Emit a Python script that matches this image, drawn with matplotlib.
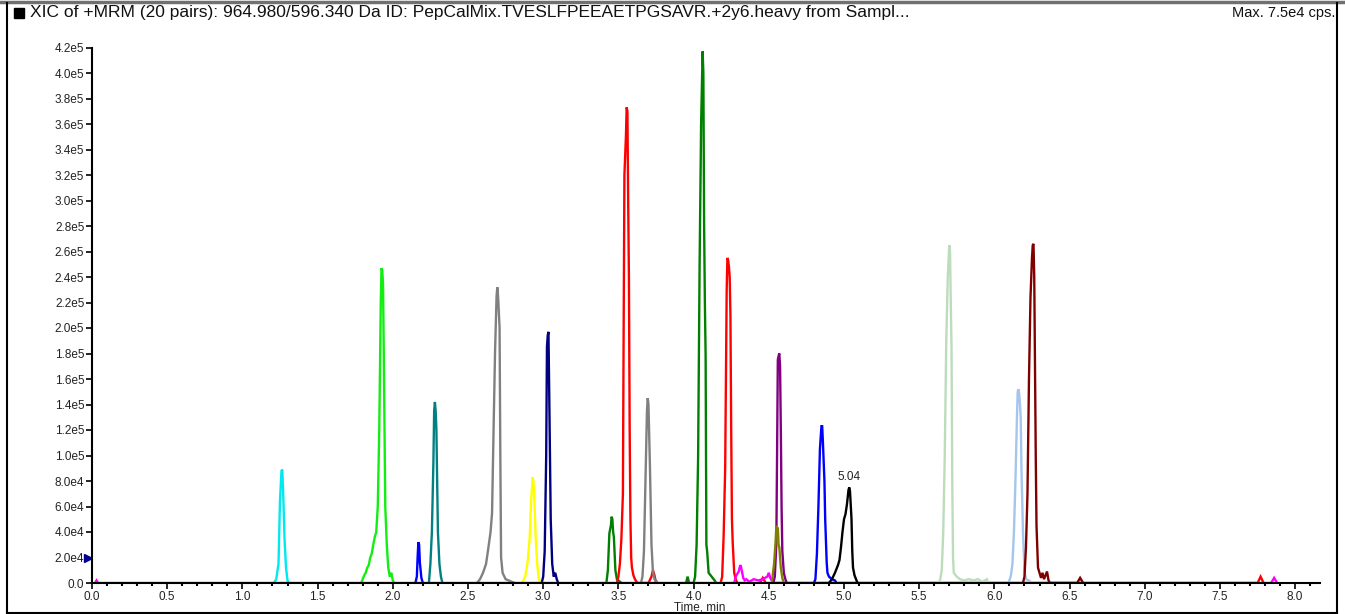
"""
XIC of +MRM, 20 transitions overlaid (PepCalMix)
"""
import matplotlib
matplotlib.use("Agg")
import matplotlib.pyplot as plt
from matplotlib.lines import Line2D
from matplotlib.patches import Rectangle
from matplotlib.ticker import MultipleLocator, FuncFormatter

plt.rcParams['font.family'] = ['Liberation Sans', 'DejaVu Sans']

# intensities are in units of 1e4 cps
t_cyan = [1.21, 1.225, 1.24, 1.25, 1.26, 1.265, 1.27, 1.28, 1.29, 1.30, 1.31]
i_cyan = [0, 0.3, 1.5, 6.5, 8.8, 8.9, 7.5, 3.5, 1.2, 0.2, 0]

t_lime = [1.79, 1.80, 1.81, 1.82, 1.83, 1.84, 1.85, 1.86, 1.87, 1.88, 1.89, 1.90, 1.91,
          1.92, 1.925, 1.93, 1.935, 1.94, 1.95, 1.96, 1.97, 1.98, 1.99, 2.00, 2.01]
i_lime = [0, 0.3, 0.6, 0.8, 1.2, 1.4, 2.0, 2.3, 3.0, 3.6, 4.0, 6.0, 12.0,
          22.0, 24.7, 24.5, 23.5, 18.0, 6.0, 3.0, 1.2, 0.5, 0.8, 0.2, 0]

t_blue1 = [2.15, 2.16, 2.165, 2.17, 2.175, 2.18, 2.19, 2.20]
i_blue1 = [0, 0.5, 2.0, 3.2, 3.0, 1.6, 0.4, 0]

t_teal = [2.24, 2.25, 2.26, 2.27, 2.275, 2.28, 2.285, 2.29, 2.295, 2.30, 2.31, 2.32, 2.33]
i_teal = [0, 1.5, 4.0, 9.5, 13.5, 14.2, 13.5, 12.0, 8.0, 4.0, 1.5, 0.5, 0]

t_gray1 = [2.56, 2.58, 2.60, 2.62, 2.63, 2.65, 2.66, 2.67, 2.68, 2.69, 2.695, 2.70,
           2.71, 2.715, 2.72, 2.73, 2.75, 2.77, 2.79, 2.81]
i_gray1 = [0, 0.3, 0.8, 1.5, 2.3, 4.0, 5.5, 12.0, 18.2, 22.5, 23.2, 22.5,
           20.0, 10.0, 2.0, 0.8, 0.3, 0.2, 0.1, 0]

t_yellow = [2.86, 2.88, 2.895, 2.91, 2.92, 2.93, 2.935, 2.94, 2.95, 2.96, 2.97, 2.98]
i_yellow = [0, 0.5, 1.5, 3.5, 6.5, 8.3, 8.0, 7.0, 3.5, 1.5, 0.4, 0]

t_navy = [2.99, 3.00, 3.01, 3.02, 3.025, 3.03, 3.035, 3.04, 3.05, 3.06, 3.07, 3.08, 3.09, 3.10]
i_navy = [0, 0.5, 2.5, 10.0, 18.5, 19.4, 19.7, 15.0, 5.0, 1.5, 0.5, 0.8, 0.3, 0]

t_green1 = [3.42, 3.43, 3.44, 3.45, 3.455, 3.46, 3.465, 3.47, 3.48, 3.49, 3.50, 3.52]
i_green1 = [0, 1.0, 3.9, 4.5, 5.2, 5.0, 4.0, 3.6, 1.0, 0.3, 0.2, 0]

t_red1 = [3.49, 3.50, 3.51, 3.52, 3.53, 3.535, 3.54, 3.55, 3.555, 3.56, 3.565, 3.57,
          3.575, 3.58, 3.585, 3.59, 3.60, 3.61, 3.62, 3.63, 3.70, 3.72, 3.73, 3.74, 3.75]
i_red1 = [0, 0.5, 1.5, 3.5, 7.0, 20.0, 32.0, 35.0, 37.3, 37.0, 30.0, 24.0,
          12.0, 5.0, 2.0, 1.2, 0.6, 0.3, 0.1, 0, 0, 0.5, 1.0, 0.6, 0]

t_gray2 = [3.65, 3.66, 3.67, 3.68, 3.69, 3.695, 3.70, 3.71, 3.72, 3.73, 3.74, 3.75, 3.76]
i_gray2 = [0, 0.5, 2.5, 8.0, 13.5, 14.5, 14.0, 9.0, 3.0, 0.8, 0.3, 0.2, 0]

t_green2 = [3.95, 3.96, 3.97, 4.00, 4.01, 4.02, 4.03, 4.04, 4.05, 4.06, 4.065, 4.07,
            4.075, 4.08, 4.085, 4.09, 4.10, 4.12, 4.14, 4.15]
i_green2 = [0, 0.5, 0, 0, 0.5, 3.0, 9.8, 25.0, 36.0, 41.7, 40.0, 28.0,
            22.0, 17.8, 3.0, 2.5, 0.8, 0.5, 0.2, 0]

t_red2 = [4.18, 4.19, 4.20, 4.21, 4.215, 4.22, 4.225, 4.23, 4.235, 4.24, 4.245, 4.25,
          4.255, 4.26, 4.27, 4.28, 4.29, 4.44, 4.46, 4.48, 7.75, 7.77, 7.79]
i_red2 = [0, 0.5, 3.8, 9.0, 16.0, 23.0, 25.5, 25.3, 24.8, 24.0, 21.0, 12.0,
          5.0, 3.2, 0.8, 0.3, 0, 0, 0.4, 0, 0, 0.5, 0]

t_magenta = [0.02, 0.03, 0.04, 4.27, 4.28, 4.29, 4.30, 4.31, 4.315, 4.32, 4.33, 4.34, 4.35,
             4.37, 4.40, 4.43, 4.46, 4.49, 4.50, 4.51, 4.52, 4.53, 7.84, 7.86, 7.88]
i_magenta = [0, 0.2, 0, 0, 0.5, 0.7, 0.9, 1.4, 1.3, 1.0, 0.4, 0.2, 0.3,
             0.1, 0.3, 0.2, 0.3, 0.5, 0.8, 0.4, 0.2, 0, 0, 0.4, 0]

t_olive = [4.52, 4.535, 4.545, 4.55, 4.56, 4.565, 4.57, 4.58, 4.59, 4.60]
i_olive = [0, 1.5, 3.2, 4.4, 4.3, 3.0, 2.8, 1.2, 0.4, 0]

t_purple = [4.53, 4.54, 4.55, 4.555, 4.56, 4.565, 4.57, 4.575, 4.58, 4.585, 4.59, 4.60, 4.61, 4.62]
i_purple = [0, 0.5, 3.0, 10.0, 17.5, 17.8, 18.0, 17.0, 12.0, 6.0, 2.5, 0.8, 0.3, 0]

t_blue2 = [4.80, 4.81, 4.82, 4.83, 4.84, 4.85, 4.855, 4.86, 4.87, 4.875, 4.885, 4.89,
           4.90, 4.92, 4.94, 4.95]
i_blue2 = [0, 0.3, 2.3, 6.0, 10.5, 12.3, 12.3, 11.0, 8.0, 5.0, 1.6, 0.8, 0.5, 0.3, 0.2, 0]

t_black = [4.90, 4.92, 4.94, 4.96, 4.97, 4.98, 4.99, 5.00, 5.01, 5.02, 5.03, 5.035,
           5.04, 5.05, 5.055, 5.06, 5.07, 5.08, 5.09]
i_black = [0, 0.3, 0.8, 1.4, 1.8, 2.8, 4.0, 5.0, 5.4, 6.2, 7.3, 7.5,
           7.2, 5.0, 2.5, 1.2, 0.6, 0.3, 0]

t_ltgreen = [5.63, 5.64, 5.65, 5.66, 5.67, 5.68, 5.69, 5.70, 5.705, 5.71, 5.715, 5.72,
             5.725, 5.73, 5.75, 5.77, 5.80, 5.83, 5.86, 5.89, 5.92, 5.95, 5.96]
i_ltgreen = [0, 0.3, 1.0, 4.0, 10.0, 19.0, 24.0, 26.5, 26.0, 22.0, 18.5, 8.0,
             2.0, 0.8, 0.5, 0.3, 0.2, 0.3, 0.2, 0.3, 0.1, 0.3, 0]

t_ltblue = [6.09, 6.10, 6.11, 6.12, 6.13, 6.14, 6.15, 6.155, 6.16, 6.165, 6.17, 6.175,
            6.18, 6.19, 6.20, 6.21, 6.23, 6.25]
i_ltblue = [0, 0.2, 0.6, 1.5, 4.0, 8.0, 13.0, 15.0, 15.2, 14.8, 14.0, 13.0,
            9.0, 4.0, 1.0, 0.3, 0.2, 0]

t_maroon = [6.19, 6.20, 6.21, 6.22, 6.23, 6.24, 6.25, 6.255, 6.26, 6.265, 6.27, 6.275,
            6.28, 6.29, 6.30, 6.31, 6.32, 6.33, 6.35, 6.36, 6.37, 6.55, 6.57, 6.59]
i_maroon = [0, 0.5, 2.8, 7.0, 16.0, 22.4, 25.5, 26.5, 26.6, 24.0, 17.0, 10.0,
            4.5, 1.2, 0.8, 0.4, 0.8, 0.3, 0.9, 0.2, 0, 0, 0.4, 0]

traces = [
    (t_cyan, i_cyan, '#00e8f0'),
    (t_lime, i_lime, '#11ee11'),
    (t_blue1, i_blue1, '#0000ff'),
    (t_teal, i_teal, '#008080'),
    (t_gray1, i_gray1, '#808080'),
    (t_yellow, i_yellow, '#ffff00'),
    (t_navy, i_navy, '#000080'),
    (t_green1, i_green1, '#008000'),
    (t_red1, i_red1, '#ff0000'),
    (t_gray2, i_gray2, '#808080'),
    (t_green2, i_green2, '#008000'),
    (t_red2, i_red2, '#ff0000'),
    (t_magenta, i_magenta, '#ff00ff'),
    (t_purple, i_purple, '#800080'),
    (t_olive, i_olive, '#808000'),
    (t_blue2, i_blue2, '#0000ff'),
    (t_black, i_black, '#000000'),
    (t_ltgreen, i_ltgreen, '#bcdcbc'),
    (t_ltblue, i_ltblue, '#a4c6ee'),
    (t_maroon, i_maroon, '#800000'),
]

fig = plt.figure(figsize=(13.45, 6.14), dpi=100)
ax = fig.add_axes([92 / 1345, 31 / 614, 1228 / 1345, 535.5 / 614])

for t, v, c in traces:
    ax.plot(t, [x * 1e4 for x in v], color=c, lw=1.7, solid_joinstyle='miter')

ax.set_xlim(0, 8.165)
ax.set_ylim(0, 4.2e5)
ax.xaxis.set_major_locator(MultipleLocator(0.5))
ax.xaxis.set_minor_locator(MultipleLocator(0.1))
ax.yaxis.set_major_locator(MultipleLocator(2e4))
ax.xaxis.set_major_formatter(FuncFormatter(lambda x, p: '%.1f' % x))


def yfmt(y, p):
    if y == 0:
        return '0.0'
    s = '%.1e' % y
    m, e = s.split('e')
    return '%se%d' % (m, int(e))


ax.yaxis.set_major_formatter(FuncFormatter(yfmt))
ax.tick_params(axis='both', which='major', length=4, width=1.2, labelsize=8.5,
               color='black', labelcolor='#222222', pad=1.5)
ax.tick_params(axis='x', which='minor', length=2, width=1.5)
for s in ['top', 'right']:
    ax.spines[s].set_visible(False)
ax.spines['left'].set_linewidth(1.5)
ax.spines['bottom'].set_linewidth(1.5)
ax.set_xlabel('Time, min', fontsize=8.5, labelpad=0, color='#222222')
ax.xaxis.set_label_coords(0.495, -0.035)

# apex label of the black trace
k = i_black.index(max(i_black))
ax.annotate('%.2f' % t_black[k], xy=(t_black[k], i_black[k] * 1e4), xytext=(0, 3),
            textcoords='offset points', ha='center', va='bottom', fontsize=8.5, color='#222222')

# blue marker on the y axis
ax.plot([-0.025], [2.0e4], marker='>', color='#000090', ms=6, clip_on=False)

# outer frame and header
fig.add_artist(Line2D([0, 1], [1 - 2 / 614, 1 - 2 / 614], color='#707070', lw=2.5))
fig.add_artist(Line2D([7 / 1345, 7 / 1345], [1 / 614, 1 - 3 / 614], color='black', lw=1.5))
fig.add_artist(Line2D([1337 / 1345, 1337 / 1345], [1 / 614, 1 - 3 / 614], color='black', lw=1.5))
fig.add_artist(Line2D([7 / 1345, 1337 / 1345], [1 / 614, 1 / 614], color='black', lw=1.5))
fig.add_artist(Rectangle((14 / 1345, 1 - 18 / 614), 10 / 1345, 10 / 614, color='black'))
fig.text(30 / 1345, 1 - 13 / 614,
         'XIC of +MRM (20 pairs): 964.980/596.340 Da ID: PepCalMix.TVESLFPEEAETPGSAVR.+2y6.heavy from Sampl...',
         fontsize=12.5, va='center', ha='left', color='#111111')
fig.text(1335 / 1345, 1 - 13 / 614, 'Max. 7.5e4 cps.', fontsize=10.5, va='center', ha='right',
         color='#111111')

fig.savefig('out.png', dpi=100)
